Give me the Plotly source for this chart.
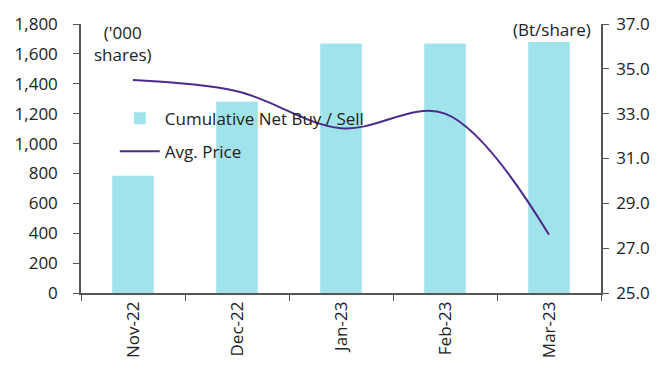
import plotly.graph_objects as go

months = ["Nov-22", "Dec-22", "Jan-23", "Feb-23", "Mar-23"]
net_buy = [785, 1280, 1670, 1670, 1680]          # '000 shares, cumulative
avg_price = [34.5, 34.0, 32.35, 33.0, 27.6]      # Bt/share

BAR_COLOR = "#A0E3EA"
LINE_COLOR = "#4B2A8C"
FONT = "Open Sans"
AX = "#555555"

fig = go.Figure()
fig.add_trace(go.Bar(
    x=months, y=net_buy, name="Cumulative Net Buy / Sell", legendgroup="a",
    marker=dict(color=BAR_COLOR, line=dict(width=0)), width=0.4,
))
fig.add_trace(go.Scatter(
    x=months, y=avg_price, name="Avg. Price", yaxis="y2", legendgroup="b",
    mode="lines", line=dict(color=LINE_COLOR, width=2, shape="spline", smoothing=1.0),
))

fig.update_layout(
    width=662, height=378,
    margin=dict(l=81, r=59, t=16, b=85),
    paper_bgcolor="white", plot_bgcolor="white",
    font=dict(family=FONT, size=17, color="#222222"),
    showlegend=True,
    legend=dict(x=0.065, y=0.715, xanchor="left", yanchor="top",
                bgcolor="rgba(0,0,0,0)", font=dict(size=17),
                traceorder="grouped", tracegroupgap=8, itemwidth=40),
    xaxis=dict(
        showline=True, linecolor=AX, linewidth=1.5,
        ticks="outside", tickson="boundaries", ticklen=6, tickcolor=AX,
        tickangle=-90, showgrid=False,
    ),
    yaxis=dict(
        range=[0, 1800], dtick=200, tickformat=",",
        showline=True, linecolor=AX, linewidth=1.5,
        ticks="outside", ticklen=6, tickcolor=AX, showgrid=False, zeroline=False,
        ticklabelstandoff=12,
    ),
    yaxis2=dict(
        range=[25, 37], tick0=25, dtick=2, tickformat=".1f",
        overlaying="y", side="right",
        showline=True, linecolor=AX, linewidth=1.5,
        ticks="outside", ticklen=6, tickcolor=AX, showgrid=False, zeroline=False,
        ticklabelstandoff=4,
    ),
    bargap=0.6,
)

fig.add_annotation(text="('000<br>shares)", xref="paper", yref="paper",
                   x=0.08, y=1.02, xanchor="center", yanchor="top",
                   showarrow=False, align="center", font=dict(size=17))
fig.add_annotation(text="(Bt/share)", xref="paper", yref="paper",
                   x=0.985, y=1.03, xanchor="right", yanchor="top",
                   showarrow=False, font=dict(size=17))

fig.write_html("out.html")
